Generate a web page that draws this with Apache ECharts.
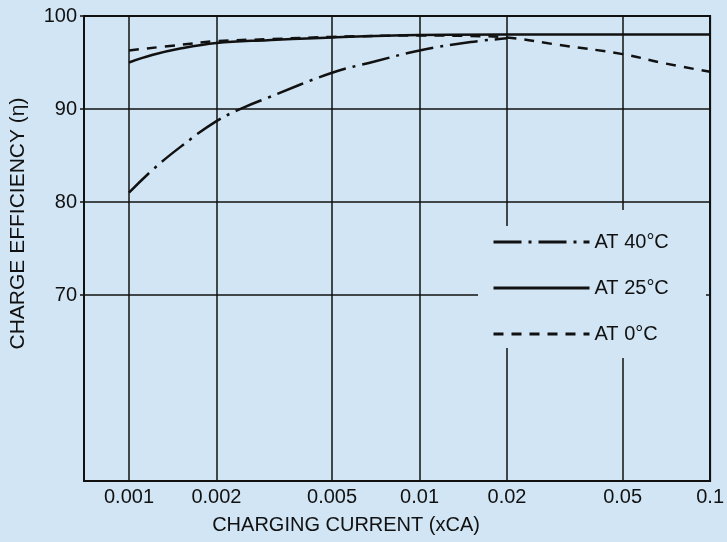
<!DOCTYPE html>
<html>
<head>
<meta charset="utf-8">
<script src="https://cdn.jsdelivr.net/npm/echarts@6/dist/echarts.min.js"></script>
<style>
html,body{margin:0;padding:0;background:#d1e5f4;}
#chart{width:727px;height:542px;}
</style>
</head>
<body>
<div id="chart"></div>
<script>
// ---- data ----
var xTicks = [0.001, 0.002, 0.005, 0.01, 0.02, 0.05, 0.1];
var yTicks = [70, 80, 90, 100];

var at40x = [0.001, 0.0012, 0.0015, 0.002, 0.0025, 0.003, 0.005, 0.007, 0.01, 0.015, 0.02];
var at40y = [81.0, 83.4, 85.9, 88.7, 90.2, 91.2, 93.9, 95.1, 96.3, 97.2, 97.6];

var at25x = [0.001, 0.0012, 0.0015, 0.002, 0.003, 0.005, 0.01, 0.02, 0.05, 0.1];
var at25y = [95.0, 95.8, 96.5, 97.1, 97.4, 97.7, 97.95, 98.0, 98.0, 98.0];

var at0x = [0.001, 0.0015, 0.002, 0.003, 0.005, 0.01, 0.015, 0.02, 0.03, 0.05, 0.07, 0.1];
var at0y = [96.3, 96.9, 97.3, 97.5, 97.75, 97.9, 97.85, 97.7, 96.9, 95.9, 94.9, 94.0];

var seriesNames = ['AT 40°C', 'AT 25°C', 'AT 0°C'];

function pairs(xs, ys) { return xs.map(function (x, i) { return [x, ys[i]]; }); }

var ink = '#111';
var bg = '#d1e5f4';
var font = '"Liberation Sans", Arial, sans-serif';
var narrow = '"Liberation Sans Narrow", "Arial Narrow", "Liberation Sans", sans-serif';

var chart = echarts.init(document.getElementById('chart'));
chart.setOption({
  backgroundColor: bg,
  animation: false,
  grid: {left: 83, right: 15, top: 16, bottom: 61, show: true, borderColor: ink, borderWidth: 2, backgroundColor: 'transparent'},
  xAxis: {
    type: 'log', logBase: 10, min: 0.0007, max: 0.1,
    name: 'CHARGING CURRENT (xCA)', nameLocation: 'middle', nameGap: 34,
    nameTextStyle: {color: ink, fontSize: 20, fontFamily: narrow, padding: [0, 102, 0, 0]},
    axisLine: {show: true, lineStyle: {color: ink, width: 2}},
    axisTick: {show: false, customValues: xTicks},
    axisLabel: {customValues: xTicks, color: ink, fontSize: 20, fontFamily: narrow, margin: 6,
      formatter: function (v) { return String(+v.toPrecision(3)); }},
    splitLine: {show: true, lineStyle: {color: ink, width: 1.5}}
  },
  yAxis: [{
    type: 'value', min: 50, max: 100,
    name: 'CHARGE EFFICIENCY (η)', nameLocation: 'middle', nameGap: 55,
    nameTextStyle: {color: ink, fontSize: 21, fontFamily: font, padding: [0, 0, 0, 50]},
    axisLine: {show: true, lineStyle: {color: ink, width: 2}},
    axisTick: {show: true, length: 4, customValues: yTicks, lineStyle: {color: ink, width: 1.5}},
    axisLabel: {customValues: yTicks, color: ink, fontSize: 20, fontFamily: font, margin: 7},
    splitLine: {show: true, lineStyle: {color: ink, width: 1.5}}
  }, {
    type: 'value', min: 50, max: 100, position: 'right', z: 3,
    axisLine: {show: true, lineStyle: {color: ink, width: 2}},
    axisTick: {show: false}, axisLabel: {show: false}, splitLine: {show: false}
  }],
  legend: {
    orient: 'vertical', left: 487, top: 227, itemWidth: 96, itemHeight: 20, itemGap: 26,
    itemStyle: {color: 'transparent', borderWidth: 0},
    lineStyle: {width: 3},
    textStyle: {color: ink, fontSize: 20, fontFamily: font},
    data: seriesNames
  },
  graphic: [
    {type: 'rect', z: 1, silent: true, shape: {x: 478, y: 226, width: 228, height: 122}, style: {fill: bg}},
    {type: 'rect', z: 1, silent: true, shape: {x: 600, y: 210, width: 50, height: 148}, style: {fill: bg}}
  ],
  series: [
    {name: seriesNames[0], type: 'line', smooth: 0.4, showSymbol: false, symbol: 'none', z: 5,
      lineStyle: {color: ink, width: 2.5, type: [28, 7, 3, 7]}, itemStyle: {color: ink},
      data: pairs(at40x, at40y)},
    {name: seriesNames[1], type: 'line', smooth: 0.4, showSymbol: false, symbol: 'none', z: 5,
      lineStyle: {color: ink, width: 2.5, type: 'solid'}, itemStyle: {color: ink},
      data: pairs(at25x, at25y)},
    {name: seriesNames[2], type: 'line', smooth: 0.4, showSymbol: false, symbol: 'none', z: 5,
      lineStyle: {color: ink, width: 2.5, type: [10, 8]}, itemStyle: {color: ink},
      data: pairs(at0x, at0y)}
  ]
});
</script>
</body>
</html>
